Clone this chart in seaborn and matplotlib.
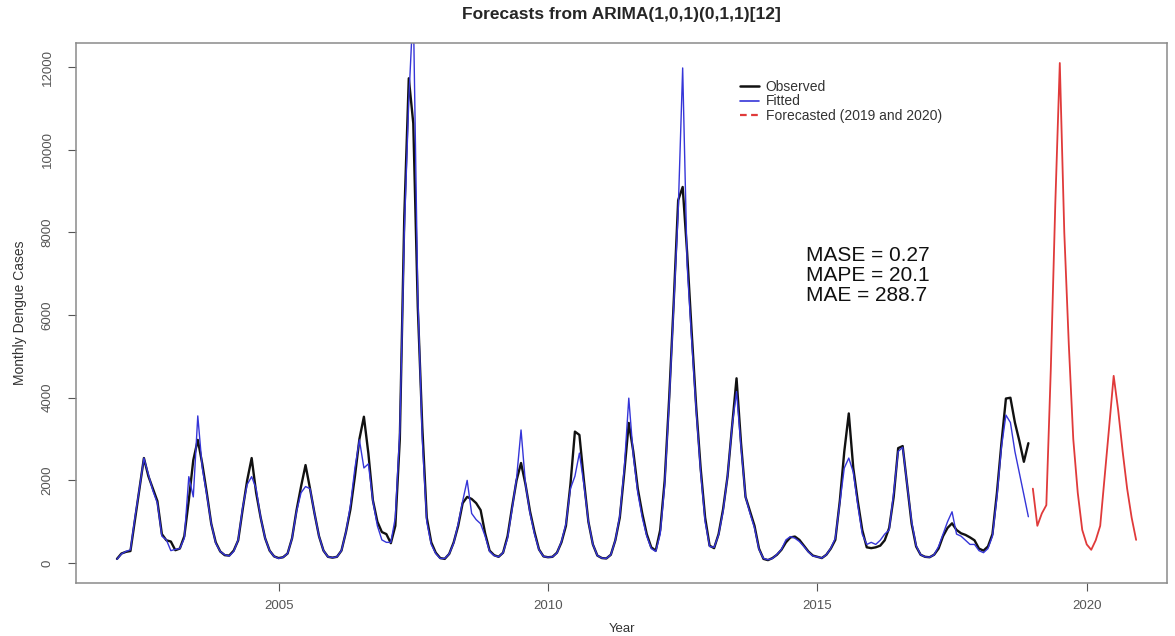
import numpy as np
import pandas as pd
import matplotlib
matplotlib.use("Agg")
import matplotlib.pyplot as plt
from matplotlib.lines import Line2D
import seaborn as sns

# ------------------------------
# data (monthly)
# ------------------------------
OBS_START = 2002          # Jan 2002 .. Dec 2018
FC_START = 2019           # Jan 2019 .. Dec 2020

observed = [
    100, 230, 270, 290, 1040, 1790, 2540, 2100, 1800, 1500, 700, 550,      # 2002
    520, 310, 350, 650, 1520, 2490, 2980, 2400, 1700, 950, 500, 280,       # 2003
    190, 180, 300, 550, 1300, 2000, 2540, 1700, 1100, 600, 300, 160,       # 2004
    120, 140, 230, 600, 1280, 1850, 2370, 1800, 1200, 650, 300, 150,       # 2005
    130, 150, 300, 750, 1300, 2100, 3000, 3540, 2650, 1520, 1000, 750,     # 2006
    700, 480, 900, 3000, 8400, 11730, 10640, 6200, 3300, 1100, 500, 250,   # 2007
    120, 100, 220, 500, 900, 1450, 1600, 1550, 1450, 1280, 720, 300,       # 2008
    190, 150, 250, 650, 1350, 2000, 2420, 1900, 1250, 750, 330, 160,       # 2009
    140, 150, 250, 500, 900, 1900, 3180, 3100, 2000, 1000, 450, 180,       # 2010
    120, 110, 200, 550, 1100, 2200, 3390, 2700, 1800, 1200, 700, 380,      # 2011
    300, 800, 2000, 4000, 6300, 8780, 9100, 7500, 5600, 3800, 2300, 1100,  # 2012
    420, 360, 700, 1300, 2100, 3300, 4470, 2900, 1600, 1250, 900, 350,     # 2013
    100, 70, 120, 200, 320, 500, 620, 640, 560, 420, 280, 180,             # 2014
    150, 120, 200, 350, 560, 1500, 2700, 3620, 2300, 1500, 800, 380,       # 2015
    360, 380, 420, 550, 850, 1600, 2780, 2830, 1900, 950, 400, 200,        # 2016
    150, 140, 200, 350, 650, 850, 960, 800, 720, 680, 620, 550,            # 2017
    350, 300, 400, 700, 1700, 2900, 3980, 4000, 3400, 2950, 2450, 2900,    # 2018
]

fitted = [
    90, 220, 280, 320, 1100, 1800, 2540, 2150, 1750, 1450, 650, 560,       # 2002
    300, 330, 350, 600, 2090, 1600, 3560, 2300, 1650, 950, 480, 280,       # 2003
    200, 170, 280, 560, 1350, 1900, 2090, 1800, 1100, 600, 300, 160,       # 2004
    110, 140, 230, 600, 1250, 1700, 1850, 1800, 1200, 650, 300, 150,       # 2005
    130, 150, 300, 750, 1400, 2300, 2980, 2300, 2400, 1500, 900, 560,      # 2006
    500, 500, 1100, 3200, 8000, 11200, 13500, 6500, 3000, 1000, 450, 230,  # 2007
    110, 110, 220, 480, 950, 1500, 2000, 1200, 1050, 950, 650, 280,        # 2008
    180, 150, 250, 600, 1300, 2050, 3220, 1900, 1200, 700, 320, 160,       # 2009
    140, 150, 240, 520, 950, 1800, 2100, 2660, 1900, 1000, 450, 180,       # 2010
    120, 110, 200, 550, 1150, 2300, 3990, 2600, 1700, 1100, 650, 350,      # 2011
    280, 700, 1900, 3900, 6200, 8500, 11980, 7200, 5400, 3700, 2200, 1000, # 2012
    400, 380, 680, 1250, 2100, 3300, 4150, 2800, 1600, 1200, 850, 330,     # 2013
    110, 80, 110, 210, 330, 560, 640, 600, 520, 400, 270, 170,             # 2014
    150, 120, 200, 360, 600, 1450, 2300, 2540, 2200, 1400, 700, 450,       # 2015
    500, 450, 550, 700, 800, 1700, 2700, 2800, 1900, 1000, 420, 200,       # 2016
    150, 140, 200, 400, 700, 1000, 1240, 700, 650, 550, 450, 450,          # 2017
    300, 250, 350, 650, 1600, 2800, 3580, 3400, 2700, 2180, 1650, 1120,    # 2018
]

forecast = [
    1800, 900, 1200, 1400, 4700, 8700, 12100, 8000, 5300, 3000, 1700, 800,  # 2019
    450, 320, 550, 900, 2100, 3300, 4530, 3700, 2700, 1800, 1100, 560,      # 2020
]

legend_labels = ["Observed", "Fitted", "Forecasted (2019 and 2020)"]
stats_lines = ["MASE = 0.27", "MAPE = 20.1", "MAE = 288.7"]

# ------------------------------
# frames
# ------------------------------
t_obs = OBS_START + np.arange(len(observed)) / 12
t_fc = FC_START + np.arange(len(forecast)) / 12
df_obs = pd.DataFrame({"Year": t_obs, "Cases": observed})
df_fit = pd.DataFrame({"Year": t_obs, "Cases": fitted})
df_fc = pd.DataFrame({"Year": t_fc, "Cases": forecast})

# ------------------------------
# plot
# ------------------------------
sns.set_style("white")
plt.rcParams["font.family"] = ["Liberation Sans", "DejaVu Sans"]

C_OBS, C_FIT, C_FC = "#111111", "#3535d8", "#e03a3a"
GREY = "#555555"

fig = plt.figure(figsize=(11.75, 6.36), dpi=100)
ax = fig.add_axes([0.0647, 0.0833, 0.9285, 0.8491])

sns.lineplot(data=df_obs, x="Year", y="Cases", color=C_OBS, lw=1.7, ax=ax)
sns.lineplot(data=df_fit, x="Year", y="Cases", color=C_FIT, lw=1.0, ax=ax)
sns.lineplot(data=df_fc, x="Year", y="Cases", color=C_FC, lw=1.3, ax=ax)

ax.set_xlim(2001.24, 2021.49)
ax.set_ylim(-484, 12584)
ax.set_xticks([2005, 2010, 2015, 2020])
ax.set_yticks(np.arange(0, 12001, 2000))
ax.tick_params(axis="both", which="both", direction="out", length=6, width=0.8,
               color=GREY, labelcolor=GREY, labelsize=9.5, bottom=True, left=True)
ax.tick_params(axis="x", pad=6)
ax.tick_params(axis="y", pad=10)
for lbl in ax.get_yticklabels():
    lbl.set_rotation(90)
    lbl.set_va("center")
for sp in ax.spines.values():
    sp.set_color("#8a8a8a")
    sp.set_linewidth(1.1)

ax.set_xlabel("Year", fontsize=9.5, color="#333333", labelpad=8)
ax.set_ylabel("Monthly Dengue Cases", fontsize=10, color="#333333", labelpad=11)
ax.set_title("Forecasts from ARIMA(1,0,1)(0,1,1)[12]", fontsize=12.5,
             fontweight="bold", pad=17)

handles = [
    Line2D([], [], color=C_OBS, lw=1.8),
    Line2D([], [], color=C_FIT, lw=1.2),
    Line2D([], [], color=C_FC, lw=1.6, ls=(0, (3, 2))),
]
ax.legend(handles, legend_labels, loc="upper left", bbox_to_anchor=(0.597, 0.955),
          frameon=False, fontsize=10, handlelength=1.35, handletextpad=0.5,
          labelspacing=0.05, labelcolor="#333333")

ax.text(0.669, 0.57, "\n".join(stats_lines), transform=ax.transAxes,
        ha="left", va="center", fontsize=15, linespacing=1.08, color="#111111")

fig.savefig("out.png", dpi=100)
